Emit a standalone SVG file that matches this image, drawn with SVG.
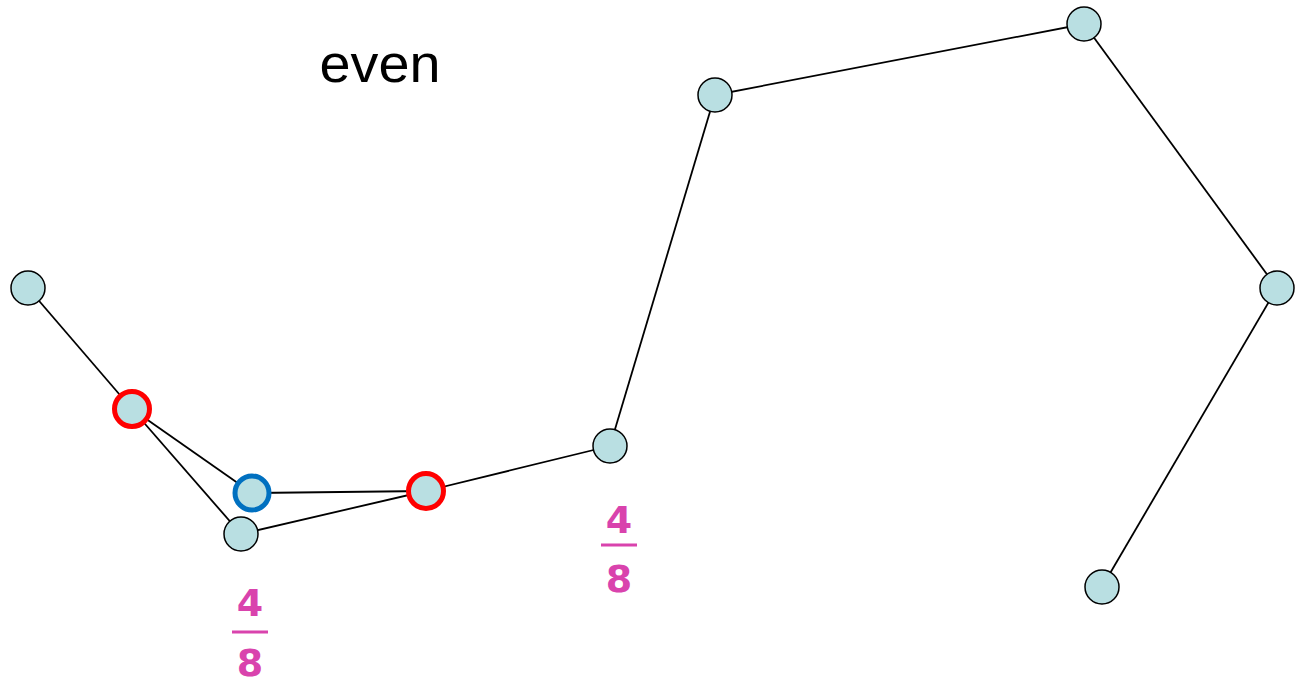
<svg xmlns="http://www.w3.org/2000/svg" width="1297" height="686" viewBox="0 0 1297 686">
<style>
.n{fill:#b9dfe2;stroke:#000;stroke-width:1.5}
.r{fill:#b9dfe2;stroke:#ff0000;stroke-width:5}
.b{fill:#b9dfe2;stroke:#0070c0;stroke-width:5}
.e{stroke:#000;stroke-width:1.8;fill:none}
.f{font-family:"DejaVu Sans",sans-serif;font-weight:bold;font-size:38px;fill:#d943ad;text-anchor:middle}
.fl{stroke:#d943ad;stroke-width:3}
</style>
<rect width="1297" height="686" fill="#fff"/>
<text x="380" y="82" font-family="Liberation Sans, Arial, sans-serif" font-size="51" text-anchor="middle" textLength="121" lengthAdjust="spacingAndGlyphs">even</text>
<g id="connectors">
<line class="e" x1="28" y1="288" x2="132" y2="409"/>
<line class="e" x1="132" y1="409" x2="252" y2="493"/>
<line class="e" x1="132" y1="409" x2="241" y2="534"/>
<line class="e" x1="252" y1="493" x2="426" y2="491"/>
<line class="e" x1="241" y1="534" x2="426" y2="491"/>
<line class="e" x1="426" y1="491" x2="610" y2="446"/>
<line class="e" x1="610" y1="446" x2="715" y2="95"/>
<line class="e" x1="715" y1="95" x2="1084" y2="24"/>
<line class="e" x1="1084" y1="24" x2="1277" y2="288"/>
<line class="e" x1="1277" y1="288" x2="1102" y2="587"/>
</g>
<g id="n1"><circle class="n" cx="28" cy="288" r="17"/></g>
<g id="n2"><circle class="r" cx="132" cy="409" r="17.5"/></g>
<g id="n3"><circle class="b" cx="252" cy="493" r="17"/></g>
<g id="n4"><circle class="n" cx="241" cy="534" r="17"/></g>
<g id="n5"><circle class="r" cx="426" cy="491" r="17.5"/></g>
<g id="n6"><circle class="n" cx="610" cy="446" r="17"/></g>
<g id="n7"><circle class="n" cx="715" cy="95" r="17"/></g>
<g id="n8"><circle class="n" cx="1084" cy="24" r="17"/></g>
<g id="n9"><circle class="n" cx="1277" cy="288" r="17"/></g>
<g id="n10"><circle class="n" cx="1102" cy="587" r="17"/></g>
<g id="frac1">
<text class="f" x="250" y="616">4</text>
<line class="fl" x1="232" y1="632" x2="268" y2="632"/>
<text class="f" x="250" y="676">8</text>
</g>
<g id="frac2">
<text class="f" x="619" y="533">4</text>
<line class="fl" x1="601" y1="545" x2="637" y2="545"/>
<text class="f" x="619" y="592">8</text>
</g>
</svg>
